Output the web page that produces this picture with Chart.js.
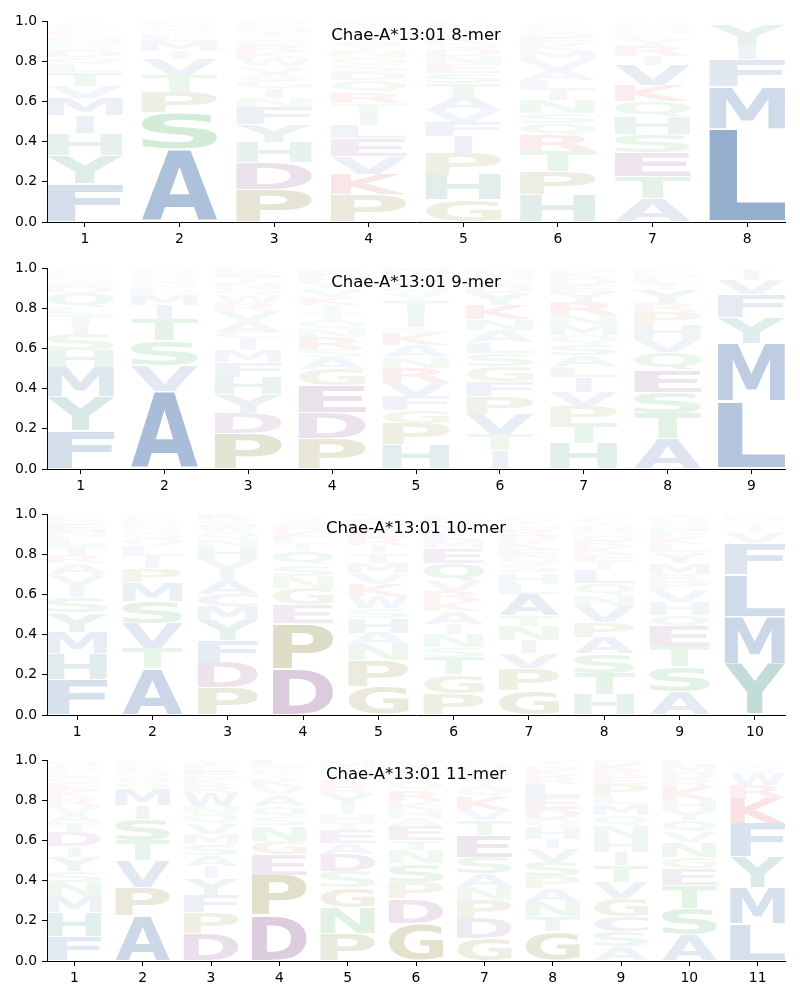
<!DOCTYPE html>
<html>
<head>
<meta charset="utf-8">
<script src="https://cdn.jsdelivr.net/npm/chart.js@4.4.1/dist/chart.umd.min.js"></script>
<style>
    body { margin: 0; background: #fff; }
    canvas { position: absolute; left: 0; }
</style>
</head>
<body>
<canvas id="logo8" width="800" height="246" style="top:0px"></canvas>
<canvas id="logo9" width="800" height="246" style="top:247px"></canvas>
<canvas id="logo10" width="800" height="246" style="top:493px"></canvas>
<canvas id="logo11" width="800" height="246" style="top:739px"></canvas>
<script>
// letters per position, bottom to top, with their heights (probabilities)
const mer8Letters = ['FYHIMVTLQDSNGKREAW', 'ASPTVIMLQGNED', 'PDHYFNIGAVWKRESTMLQ', 'PKVELITRQDSGNYAMFHWC',
    'GHPIFVATSENDQKRYMLW', 'HPTRQSNILAVMKEDGFYW', 'ATESHQKVIRYLMNDG', 'LMFIYVW']
const mer8Heights = [
    [.19, .14, .11, .09, .085, .06, .07, .04, .035, .035, .03, .025, .02, .02, .015, .015, .01, .005],
    [.36, .185, .10, .085, .08, .04, .05, .035, .02, .02, .01, .01, .005],
    [.163, .135, .10, .09, .085, .045, .045, .045, .03, .035, .04, .03, .03, .025, .025, .025, .02, .01, .02],
    [.135, .10, .09, .09, .065, .06, .05, .055, .06, .04, .04, .035, .03, .03, .03, .025, .02, .015, .01, .02],
    [.11, .125, .105, .085, .07, .06, .065, .07, .05, .045, .04, .035, .03, .03, .025, .02, .015, .01, .01],
    [.135, .115, .10, .08, .06, .05, .065, .05, .05, .05, .05, .045, .035, .03, .025, .02, .02, .015, .005],
    [.115, .11, .12, .09, .09, .075, .08, .10, .045, .05, .035, .025, .02, .015, .015, .01],
    [.465, .21, .135, .07, .10, .01, .01],
]

const mer9Letters = ['FYMHSITLQDENKRGW', 'AVSTIMLQGEND', 'PDYHFMICAVRWQNTEK', 'PDEGASRNQTIKVYHFWL',
    'HPGFVRNAKSITYQDEM', 'ITVPFGSLANKYDEMH', 'HTPVILASQMNRYEDKG', 'ATSEQVHPRYILNKD', 'LMYFVIW']
const mer9Heights = [
    [.19, .17, .145, .085, .08, .05, .05, .035, .07, .03, .025, .02, .02, .015, .01, .005],
    [.385, .13, .125, .105, .07, .055, .03, .03, .025, .02, .015, .01],
    [.177, .10, .095, .086, .074, .058, .058, .035, .05, .05, .04, .04, .03, .03, .03, .025, .022],
    [.152, .128, .135, .082, .058, .04, .06, .04, .04, .04, .04, .04, .04, .03, .03, .03, .02, .025],
    [.12, .105, .065, .07, .07, .07, .055, .06, .06, .03, .065, .065, .04, .035, .03, .03, .03],
    [.09, .08, .10, .09, .075, .075, .065, .055, .06, .055, .07, .06, .04, .035, .025, .025],
    [.127, .098, .085, .07, .075, .055, .055, .055, .045, .05, .05, .065, .05, .035, .035, .03, .02],
    [.15, .125, .105, .11, .09, .065, .07, .065, .045, .065, .03, .03, .02, .02, .01],
    [.335, .29, .13, .115, .07, .05, .01],
]

const mer10Letters = ['FHMYSIVARTLNEDK', 'ATVSMPILQGNEDKR', 'PDFYMCAIVHNQWSK', 'DPEGNSQILKRAVT',
    'GPNAHSWKVMTIREDQY', 'PGTSNIAKRVQEMLYHF', 'GPVINTALHSQEKDRMYFW', 'HTSAPVNQLIEKRGMDYFW',
    'ASTEQHVPRMYLKFNGDI', 'YMLFVIWKHR']
const mer10Heights = [
    [.175, .13, .107, .097, .077, .058, .055, .055, .04, .05, .04, .03, .03, .025, .025],
    [.23, .10, .125, .11, .095, .07, .06, .05, .04, .03, .025, .025, .01, .015, .015],
    [.137, .125, .108, .10, .07, .063, .065, .057, .05, .058, .04, .035, .03, .03, .03],
    [.23, .225, .095, .08, .06, .058, .065, .035, .03, .035, .025, .025, .02, .015],
    [.14, .13, .08, .058, .075, .05, .06, .06, .05, .05, .05, .04, .04, .035, .03, .03, .022],
    [.107, .093, .089, .05, .065, .05, .06, .05, .05, .05, .09, .075, .04, .04, .035, .025, .025],
    [.124, .106, .075, .065, .07, .056, .107, .05, .055, .04, .04, .035, .035, .03, .03, .025, .025, .02, .012],
    [.10, .107, .098, .083, .075, .077, .055, .058, .067, .04, .04, .035, .03, .03, .025, .025, .02, .015, .02],
    [.116, .124, .099, .099, .058, .066, .058, .045, .035, .055, .055, .04, .035, .03, .025, .025, .02, .015],
    [.255, .235, .21, .155, .05, .03, .02, .015, .015, .015],
]

const mer11Letters = ['FHMNSYIDTAVRKEQLGW', 'APVTSIMQGNELD', 'DPFYIASMVQNWRKELT', 'DPEGNSQAVKTRIL',
    'PNGSDAETHIYRKQLM', 'GDPSNTEAHKRQYLV', 'GDPNASETVKQILMHFR', 'GTNAPSVIHQDELRKMY',
    'ASCGVTIHNQMLPERKD', 'ASTEGNVQYHKRDML', 'LMYFKRWVIH']
const mer11Heights = [
    [.12, .12, .08, .07, .055, .07, .055, .07, .05, .04, .04, .04, .04, .035, .03, .03, .025, .025],
    [.228, .14, .132, .10, .107, .066, .082, .035, .03, .025, .02, .02, .015],
    [.137, .103, .087, .083, .06, .055, .058, .05, .05, .049, .038, .066, .04, .035, .03, .03, .025],
    [.228, .20, .10, .07, .075, .045, .05, .055, .04, .04, .025, .02, .015, .035],
    [.137, .13, .10, .08, .085, .055, .065, .035, .045, .04, .06, .04, .035, .03, .025, .03],
    [.187, .123, .08, .094, .066, .05, .07, .04, .042, .043, .055, .04, .035, .035, .035],
    [.112, .098, .092, .066, .067, .082, .108, .075, .05, .065, .049, .03, .03, .025, .025, .015, .011],
    [.145, .075, .074, .066, .058, .075, .066, .049, .058, .041, .05, .058, .065, .04, .03, .025, .025],
    [.071, .074, .075, .09, .083, .083, .066, .066, .066, .05, .056, .04, .06, .035, .03, .03, .025],
    [.129, .131, .117, .083, .057, .073, .05, .06, .05, .05, .064, .04, .035, .03, .03],
    [.185, .18, .155, .165, .125, .065, .06, .025, .02, .015],
]

const yTicks = [0, 0.2, 0.4, 0.6, 0.8, 1.0]

// letter colour groups, drawn with alpha = letter height
const groupColors = {
    hydrophobic: [31, 83, 153],
    aromaticPolar: [20, 118, 106],
    acidic: [103, 29, 107],
    special: [104, 100, 0],
    polar: [20, 150, 40],
    basic: [200, 20, 20],
}
const letterGroups = {
    hydrophobic: 'AVLIMFW',
    aromaticPolar: 'HY',
    acidic: 'DEC',
    special: 'PG',
    polar: 'STNQ',
    basic: 'KR',
}

Chart.defaults.font.family = '"DejaVu Sans", sans-serif'
Chart.defaults.color = '#000'

const glyphFont = 'bold 200px "DejaVu Sans"'
const glyphCache = {}

function glyphBox(ctx, ch) {
    if (!glyphCache[ch]) {
        ctx.font = glyphFont
        const m = ctx.measureText(ch)
        glyphCache[ch] = {
            l: m.actualBoundingBoxLeft,
            r: m.actualBoundingBoxRight,
            a: m.actualBoundingBoxAscent,
            d: m.actualBoundingBoxDescent,
        }
    }
    return glyphCache[ch]
}

function letterColor(ch, alpha) {
    for (const group in letterGroups) {
        if (letterGroups[group].includes(ch)) {
            const [r, g, b] = groupColors[group]
            return `rgba(${r},${g},${b},${Math.min(1, alpha)})`
        }
    }
    return `rgba(120,120,120,${alpha})`
}

function drawGlyph(ctx, ch, x, top, w, h, color) {
    const g = glyphBox(ctx, ch)
    const ref = glyphBox(ctx, 'M')
    const gw = g.l + g.r
    const gh = g.a + g.d
    const refW = ref.l + ref.r
    // narrow glyphs (I) are not stretched to full width
    let tw = w
    if (gw < 0.5 * refW) {
        tw = w * gw / refW
    }
    const pad = h * 0.02

    ctx.save()
    ctx.translate(x + (w - tw) / 2, top + pad)
    ctx.scale(tw / gw, (h - 2 * pad) / gh)
    ctx.font = glyphFont
    ctx.textAlign = 'left'
    ctx.textBaseline = 'alphabetic'
    ctx.fillStyle = color
    ctx.fillText(ch, g.l, g.a)
    ctx.restore()
}

function buildLogo(canvasId, title, letters, heights) {
    const n = letters.length
    const positions = letters.map((s, i) => i + 1)
    const depth = Math.max(...letters.map((s) => s.length))

    const datasets = []
    for (let k = 0; k < depth; k++) {
        datasets.push({
            data: positions.map((p, i) => ({ x: p, y: heights[i][k] || 0 })),
            backgroundColor: 'rgba(0,0,0,0)',
            borderWidth: 0,
            barPercentage: 0.8,
            categoryPercentage: 1.0,
        })
    }

    const logoPlugin = {
        id: 'logoGlyphs',
        afterDatasetsDraw(chart) {
            const ctx = chart.ctx
            const area = chart.chartArea
            ctx.save()
            ctx.beginPath()
            ctx.rect(area.left, area.top, area.right - area.left, area.bottom - area.top)
            ctx.clip()
            chart.data.datasets.forEach((ds, k) => {
                const meta = chart.getDatasetMeta(k)
                meta.data.forEach((bar, i) => {
                    const ch = letters[i][k]
                    const value = heights[i][k]
                    if (!ch || !value) {
                        return
                    }
                    const { x, y, base, width } = bar.getProps(['x', 'y', 'base', 'width'], true)
                    const h = base - y
                    if (h < 0.5) {
                        return
                    }
                    drawGlyph(ctx, ch, x - width / 2, y, width, h, letterColor(ch, value))
                })
            })
            ctx.restore()
        },
        afterDraw(chart) {
            const ctx = chart.ctx
            const area = chart.chartArea
            ctx.save()
            ctx.font = '16.5px "DejaVu Sans"'
            ctx.fillStyle = '#000'
            ctx.textAlign = 'center'
            ctx.textBaseline = 'middle'
            ctx.fillText(title, (area.left + area.right) / 2, area.top + 15)
            ctx.restore()
        },
    }

    const axisLine = { display: true, color: '#000', width: 1 }
    const tickMarks = { drawOnChartArea: false, drawTicks: true, tickLength: 5, color: '#000', lineWidth: 1, offset: false }

    return new Chart(document.getElementById(canvasId), {
        type: 'bar',
        data: { datasets },
        options: {
            responsive: false,
            animation: false,
            devicePixelRatio: 1,
            events: [],
            layout: { padding: { top: 21, right: 15, bottom: 0, left: 0 } },
            plugins: {
                legend: { display: false },
                tooltip: { enabled: false },
                title: { display: false },
            },
            scales: {
                x: {
                    type: 'linear',
                    stacked: true,
                    offset: false,
                    min: 0.6,
                    max: n + 0.4,
                    afterBuildTicks: (axis) => {
                        axis.ticks = positions.map((v) => ({ value: v }))
                    },
                    afterFit: (axis) => {
                        axis.height = 24
                    },
                    grid: tickMarks,
                    border: axisLine,
                    ticks: {
                        color: '#000',
                        font: { size: 13.9 },
                        padding: 4,
                        maxRotation: 0,
                        autoSkip: false,
                        callback: (v) => String(v),
                    },
                },
                y: {
                    stacked: true,
                    min: 0,
                    max: 1,
                    afterBuildTicks: (axis) => {
                        axis.ticks = yTicks.map((v) => ({ value: v }))
                    },
                    afterFit: (axis) => {
                        axis.width = 47
                    },
                    grid: tickMarks,
                    border: axisLine,
                    ticks: {
                        color: '#000',
                        font: { size: 13.9 },
                        padding: 5,
                        callback: (v) => Number(v).toFixed(1),
                    },
                },
            },
        },
        plugins: [logoPlugin],
    })
}

buildLogo('logo8', 'Chae-A*13:01 8-mer', mer8Letters, mer8Heights)
buildLogo('logo9', 'Chae-A*13:01 9-mer', mer9Letters, mer9Heights)
buildLogo('logo10', 'Chae-A*13:01 10-mer', mer10Letters, mer10Heights)
buildLogo('logo11', 'Chae-A*13:01 11-mer', mer11Letters, mer11Heights)
</script>
</body>
</html>
